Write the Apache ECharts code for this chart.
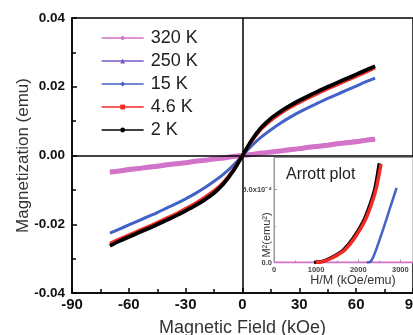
<!DOCTYPE html>
<html>
<head>
<meta charset="utf-8">
<script src="https://cdn.jsdelivr.net/npm/echarts@6/dist/echarts.min.js"></script>
<style>
  html, body { margin: 0; padding: 0; background: #fff; }
  #chart { width: 413px; height: 335px; }
</style>
</head>
<body>
<div id="chart"></div>
<script>
// main panel: M(H) loops, field in kOe
const fieldKOe = [-70, -65, -60, -55, -50, -45, -40, -35, -30, -25, -20, -15, -10, -5, 0,
  5, 10, 15, 20, 25, 30, 35, 40, 45, 50, 55, 60, 65, 70]
const m320K = [-0.0048, -0.0045, -0.0041, -0.0038, -0.0034, -0.0031, -0.0027, -0.0024, -0.0021, -0.0017, -0.0014, -0.0010, -0.0007, -0.0003, 0,
  0.0003, 0.0007, 0.0010, 0.0013, 0.0017, 0.0020, 0.0024, 0.0027, 0.0030, 0.0034, 0.0037, 0.0040, 0.0044, 0.0047]
const m250K = [-0.0050, -0.0046, -0.0043, -0.0039, -0.0036, -0.0032, -0.0029, -0.0025, -0.0021, -0.0018, -0.0014, -0.0011, -0.0007, -0.0004, 0,
  0.0004, 0.0007, 0.0011, 0.0014, 0.0018, 0.0021, 0.0025, 0.0028, 0.0032, 0.0035, 0.0039, 0.0042, 0.0046, 0.0049]
const m15K = [-0.0226, -0.0214, -0.0202, -0.0190, -0.0178, -0.0166, -0.0153, -0.0140, -0.0126, -0.0111, -0.0094, -0.0075, -0.0054, -0.0029, 0,
  0.0029, 0.0054, 0.0075, 0.0094, 0.0111, 0.0126, 0.0140, 0.0153, 0.0166, 0.0178, 0.0190, 0.0202, 0.0214, 0.0225]
const m46K = [-0.0256, -0.0243, -0.0231, -0.0219, -0.0207, -0.0195, -0.0182, -0.0169, -0.0154, -0.0139, -0.0122, -0.0102, -0.0077, -0.0042, 0,
  0.0042, 0.0077, 0.0102, 0.0122, 0.0139, 0.0154, 0.0168, 0.0181, 0.0194, 0.0206, 0.0218, 0.0230, 0.0242, 0.0255]
const m2K = [-0.0263, -0.0249, -0.0237, -0.0225, -0.0213, -0.0201, -0.0188, -0.0175, -0.0161, -0.0146, -0.0129, -0.0109, -0.0082, -0.0046, 0,
  0.0046, 0.0082, 0.0108, 0.0128, 0.0145, 0.0160, 0.0174, 0.0187, 0.0200, 0.0212, 0.0224, 0.0236, 0.0248, 0.0260]

// inset: Arrott plot, M^2 (emu^2) vs H/M (kOe/emu)
const arrottHM2K = [950, 1150, 1330, 1500, 1650, 1880, 2120, 2280, 2400, 2500]
const arrottM22K = [0, 0.08e-4, 0.29e-4, 0.55e-4, 0.86e-4, 1.67e-4, 2.81e-4, 3.97e-4, 5.12e-4, 6.8e-4]
const arrottHM46K = [990, 1180, 1360, 1530, 1680, 1910, 2150, 2310, 2430, 2540]
const arrottM246K = [0, 0.08e-4, 0.29e-4, 0.55e-4, 0.86e-4, 1.67e-4, 2.81e-4, 3.97e-4, 5.12e-4, 6.75e-4]
const arrottHM15K = [2200, 2290, 2360, 2440, 2600, 2755, 2910]
const arrottM215K = [0, 0.05e-4, 0.4e-4, 1.0e-4, 2.36e-4, 3.74e-4, 5.12e-4]
const arrottHM320K = [0, 3300]
const arrottM2320K = [0, 0]

const xTicks = { min: -90, max: 90, step: 30 }
const yTicks = { min: -0.04, max: 0.04, step: 0.02 }

const FONT = '"Liberation Sans", Arial, sans-serif'
const zip = (xs, ys) => xs.map((x, i) => [x, ys[i]])

const mainLine = (name, data, color, width, symbol, z) => ({
  name,
  type: 'line',
  data: zip(fieldKOe, data),
  symbol,
  showSymbol: false,
  smooth: 0.3,
  z,
  color,
  lineStyle: { color, width }
})

const insetLine = (name, xs, ys, color, width, symbol, z) => ({
  name,
  type: 'line',
  xAxisIndex: 1,
  yAxisIndex: 1,
  data: zip(xs, ys),
  symbol,
  showSymbol: false,
  smooth: 0.3,
  z,
  color,
  lineStyle: { color, width }
})

const chart = echarts.init(document.getElementById('chart'))

chart.setOption({
  animation: false,
  backgroundColor: '#fff',
  textStyle: { fontFamily: FONT },
  title: {
    text: 'Arrott plot',
    left: 286,
    top: 167,
    padding: 0,
    textStyle: { fontSize: 16, fontWeight: 'normal', color: '#222', fontFamily: FONT }
  },
  legend: [
    {
      data: ['320 K', '250 K', '15 K', '4.6 K', '2 K'],
      orient: 'vertical',
      left: 101,
      top: 29,
      padding: 0,
      itemWidth: 42,
      itemHeight: 6,
      itemGap: 5,
      lineStyle: { width: 1.3 },
      textStyle: { fontSize: 18, color: '#222', fontFamily: FONT, padding: [0, 0, 0, 2] }
    },
    {
      data: ['2 K', '4.6 K', '15 K'],
      orient: 'vertical',
      left: 281,
      top: 202,
      padding: 0,
      itemWidth: 21,
      itemHeight: 5,
      itemGap: 1.5,
      lineStyle: { width: 1.2 },
      textStyle: { fontSize: 13, color: '#222', fontFamily: FONT }
    }
  ],
  grid: [
    {
      left: 72, right: 0, top: 18, bottom: 42,
      show: true, borderColor: '#000', borderWidth: 1.5,
      containLabel: false,
      outerBoundsMode: 'none'
    },
    {
      left: 274, right: 0, top: 157.5, bottom: 72.5,
      show: true, borderColor: '#999', borderWidth: 1,
      backgroundColor: '#fff', z: 5,
      containLabel: false,
      outerBoundsMode: 'none'
    }
  ],
  xAxis: [
    {
      type: 'value',
      gridIndex: 0,
      min: xTicks.min,
      max: xTicks.max,
      interval: xTicks.step,
      name: 'Magnetic Field (kOe)',
      nameLocation: 'middle',
      nameGap: 26,
      nameMoveOverlap: false,
      nameTextStyle: { fontSize: 18, color: '#333', fontFamily: FONT },
      axisLine: { onZero: false, lineStyle: { color: '#000', width: 1.5 } },
      axisTick: { inside: true, length: 5, lineStyle: { color: '#000', width: 1.5 } },
      minorTick: { show: true, splitNumber: 2, length: 4, lineStyle: { color: '#000', width: 1.5 } },
      axisLabel: { margin: 4, fontSize: 15, fontWeight: 'bold', color: '#111', fontFamily: FONT },
      splitLine: { show: false }
    },
    {
      type: 'value',
      gridIndex: 1,
      min: 0,
      max: 3300,
      interval: 1000,
      name: '{gap|}H/M (kOe/emu)',
      nameLocation: 'middle',
      nameGap: 12,
      nameMoveOverlap: false,
      nameTextStyle: {
        fontSize: 12.5, color: '#333', fontFamily: FONT,
        rich: { gap: { width: 19 } }
      },
      axisLine: { onZero: false, lineStyle: { color: '#999', width: 1 } },
      axisTick: { inside: true, length: 3, lineStyle: { color: '#999' } },
      minorTick: { show: true, splitNumber: 2, length: 2, lineStyle: { color: '#999' } },
      axisLabel: {
        margin: 3, fontSize: 7.5, fontWeight: 'bold', color: '#444', showMaxLabel: false, fontFamily: FONT,
        formatter: v => String(v)
      },
      splitLine: { show: false },
      z: 6
    }
  ],
  yAxis: [
    {
      type: 'value',
      gridIndex: 0,
      min: yTicks.min,
      max: yTicks.max,
      interval: yTicks.step,
      name: 'Magnetization (emu)',
      nameLocation: 'middle',
      nameGap: 40,
      nameMoveOverlap: false,
      nameTextStyle: { fontSize: 17, color: '#333', fontFamily: FONT },
      axisLine: { onZero: false, lineStyle: { color: '#000', width: 1.5 } },
      axisTick: { inside: true, length: 5, lineStyle: { color: '#000', width: 1.5 } },
      minorTick: { show: true, splitNumber: 2, length: 4, lineStyle: { color: '#000', width: 1.5 } },
      axisLabel: {
        margin: 7, fontSize: 13.5, fontWeight: 'bold', color: '#111', fontFamily: FONT,
        formatter: v => v.toFixed(2)
      },
      splitLine: { show: false }
    },
    {
      type: 'value',
      gridIndex: 1,
      min: 0,
      max: 7.2e-4,
      interval: 5e-4,
      name: 'M²(emu²){gap|}',
      nameLocation: 'middle',
      nameGap: 2,
      nameMoveOverlap: false,
      nameTextStyle: {
        fontSize: 11, color: '#333', fontFamily: FONT,
        rich: { gap: { width: 50 } }
      },
      axisLine: { onZero: false, lineStyle: { color: '#999', width: 1 } },
      axisTick: { inside: true, length: 3, lineStyle: { color: '#999' } },
      minorTick: { show: true, splitNumber: 2, length: 2, lineStyle: { color: '#999' } },
      axisLabel: {
        margin: 2, fontSize: 7.5, fontWeight: 'bold', color: '#444', showMaxLabel: false, fontFamily: FONT,
        formatter: v => (v === 0 ? '0.0' : '5.0x10⁻⁴')
      },
      splitLine: { show: false },
      z: 6
    }
  ],
  series: [
    Object.assign(mainLine('250 K', m250K, '#7b58c6', 3, 'triangle', 2), {
      markLine: {
        silent: true,
        symbol: 'none',
        label: { show: false },
        lineStyle: { color: '#000', width: 1.5, type: 'solid' },
        data: [{ xAxis: 0 }, { yAxis: 0 }]
      }
    }),
    mainLine('320 K', m320K, '#d272c8', 5, 'diamond', 3),
    mainLine('15 K', m15K, '#4262c8', 3, 'diamond', 4),
    mainLine('4.6 K', m46K, '#f22a24', 3.2, 'rect', 5),
    mainLine('2 K', m2K, '#000', 3.8, 'circle', 6),
    insetLine('320 K', arrottHM320K, arrottM2320K, '#d272c8', 2, 'diamond', 7),
    insetLine('15 K', arrottHM15K, arrottM215K, '#4262c8', 2.5, 'diamond', 8),
    insetLine('2 K', arrottHM2K, arrottM22K, '#000', 3.5, 'circle', 9),
    insetLine('4.6 K', arrottHM46K, arrottM246K, '#f22a24', 3.5, 'rect', 10)
  ]
})
</script>
</body>
</html>
